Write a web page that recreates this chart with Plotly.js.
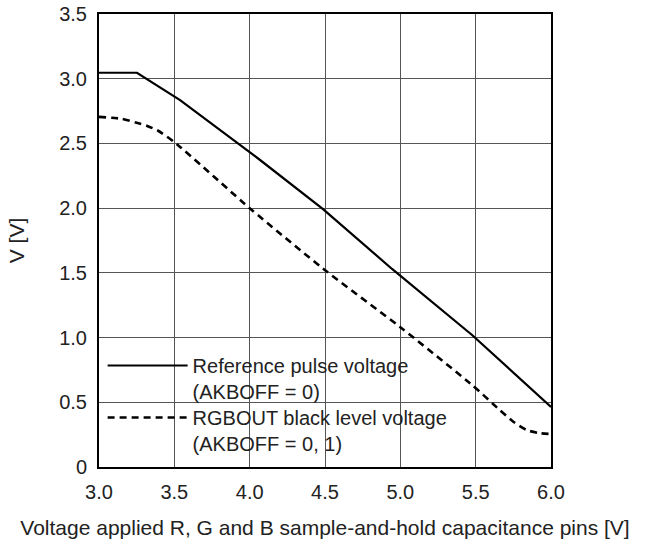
<!DOCTYPE html>
<html>
<head>
<meta charset="utf-8">
<script src="https://cdn.plot.ly/plotly-3.0.1.min.js"></script>
<style>html,body{margin:0;padding:0;background:#fff;}#chart{width:659px;height:540px;}</style>
</head>
<body>
<div id="chart"></div>
<script>
// Series: Reference pulse voltage (AKBOFF = 0)
const refX = [3.0, 3.252, 3.538, 4.069, 4.487, 4.945, 5.476, 6.0];
const refY = [3.046, 3.046, 2.835, 2.372, 1.993, 1.530, 1.020, 0.464];
// Series: RGBOUT black level voltage (AKBOFF = 0, 1)
const blkX = [3.0, 3.15, 3.25, 3.32, 3.39, 3.5, 4.01, 4.49, 5.0, 5.48, 5.66, 5.75, 5.84, 5.92, 6.0];
const blkY = [2.705, 2.69, 2.66, 2.635, 2.60, 2.51, 1.99, 1.53, 1.08, 0.63, 0.44, 0.35, 0.285, 0.262, 0.255];

const seriesNames = ["Reference pulse voltage<br>(AKBOFF = 0)", "RGBOUT black level voltage<br>(AKBOFF = 0, 1)"];
const xTickVals = [3.0, 3.5, 4.0, 4.5, 5.0, 5.5, 6.0];
const xTickText = ["3.0", "3.5", "4.0", "4.5", "5.0", "5.5", "6.0"];
const yTickVals = [0, 0.5, 1.0, 1.5, 2.0, 2.5, 3.0, 3.5];
const yTickText = ["0", "0.5", "1.0", "1.5", "2.0", "2.5", "3.0", "3.5"];
const xTitle = "Voltage applied R, G and B sample-and-hold capacitance pins [V]";
const yTitle = "V [V]";

const FONT = "Arial, 'Liberation Sans', Helvetica, sans-serif";

const traces = [
  {x: refX, y: refY, type: "scatter", mode: "lines", name: seriesNames[0], legend: "legend",
   line: {color: "#000", width: 2.2, dash: "solid", shape: "linear"}},
  {x: blkX, y: blkY, type: "scatter", mode: "lines", name: seriesNames[1], legend: "legend2",
   line: {color: "#000", width: 2.6, dash: "7px,5px", shape: "spline", smoothing: 0.6}}
];

const legendCommon = {
  bgcolor: "rgba(255,255,255,0)", borderwidth: 0, xanchor: "left", yanchor: "top",
  font: {family: FONT, size: 20, color: "#222"}, itemwidth: 80, valign: "top",
  tracegroupgap: 0, itemclick: false, itemdoubleclick: false
};

const layout = {
  width: 659, height: 540,
  margin: {l: 99, r: 108, t: 14, b: 73, pad: 0},
  paper_bgcolor: "#fff", plot_bgcolor: "#fff",
  font: {family: FONT, color: "#222"},
  showlegend: true,
  legend: Object.assign({}, legendCommon, {x: 0.008, y: 0.2671}),
  legend2: Object.assign({}, legendCommon, {x: 0.008, y: 0.1523}),
  shapes: [
    // white panel behind the legend that masks the grid (drawn under the traces)
    {type: "rect", xref: "paper", yref: "paper", x0: 0.003, x1: 0.822, y0: 0.03, y1: 0.247,
     fillcolor: "#ffffff", line: {width: 0}, layer: "between"}
  ],
  xaxis: {
    range: [3, 6], tickvals: xTickVals, ticktext: xTickText,
    showgrid: true, gridcolor: "#555", gridwidth: 1,
    showline: true, linecolor: "#000", linewidth: 2, mirror: true,
    zeroline: false, ticks: "", tickfont: {family: FONT, size: 20, color: "#222"},
    ticklabelstandoff: 6,
    title: {text: xTitle, font: {family: FONT, size: 21, color: "#222"}, standoff: 18},
    automargin: false, fixedrange: true
  },
  yaxis: {
    range: [0, 3.5], tickvals: yTickVals, ticktext: yTickText,
    showgrid: true, gridcolor: "#555", gridwidth: 1,
    showline: true, linecolor: "#000", linewidth: 2, mirror: true,
    zeroline: false, ticks: "", tickfont: {family: FONT, size: 20, color: "#222"},
    ticklabelstandoff: 6,
    title: {text: yTitle, font: {family: FONT, size: 21, color: "#222"}, standoff: 29},
    automargin: false, fixedrange: true
  }
};

Plotly.newPlot("chart", traces, layout, {staticPlot: true, displayModeBar: false});
</script>
</body>
</html>
